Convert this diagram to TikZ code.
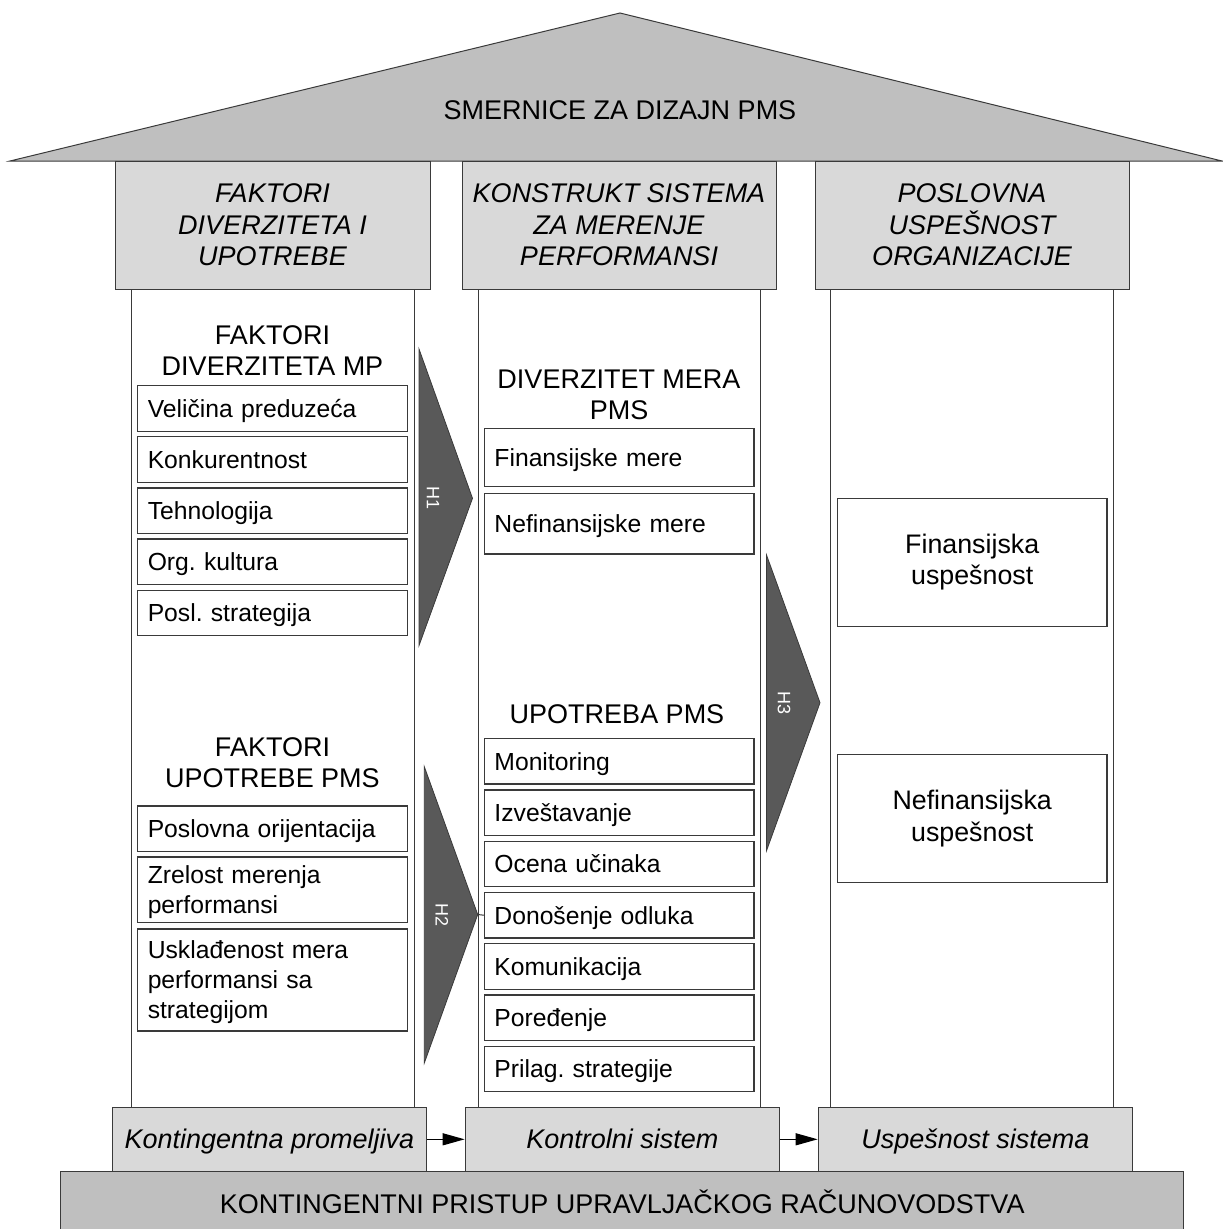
\documentclass[tikz,border=0pt]{standalone}
\usepackage{fontspec}
\setmainfont{Liberation Sans}
\usetikzlibrary{arrows.meta}
\definecolor{roofgray}{HTML}{BFBFBF}
\definecolor{boxgray}{HTML}{D9D9D9}
\definecolor{chevgray}{HTML}{595959}
\definecolor{edgegray}{HTML}{3A3A3A}
\newcommand\itmtop{\rule{0pt}{23.7pt}}
\newcommand\itmbot{\rule[-6pt]{0pt}{6pt}}
\tikzset{
  roofshape/.style={fill=roofgray, draw=edgegray, line width=1pt},
  hdr/.style={fill=boxgray, draw=edgegray, line width=1pt, align=center, inner sep=0pt,
    minimum height=128pt, font=\fontsize{27}{31.5}\selectfont\itshape},
  pillar/.style={draw=edgegray, line width=1pt, fill=white, inner sep=0pt,
    minimum width=282.5pt, minimum height=818pt},
  item/.style={draw=edgegray, line width=1.2pt, fill=white, text width=249.5pt,
    inner xsep=10pt, inner ysep=0pt, align=left, minimum height=45.4pt,
    font=\fontsize{24.7}{30}\selectfont,
    execute at begin node=\itmtop, execute at end node=\itmbot},
  ptitle/.style={align=center, inner sep=0pt, font=\fontsize{27}{31}\selectfont},
  resbox/.style={draw=edgegray, line width=1.2pt, fill=white, minimum width=269.7pt,
    minimum height=128pt, align=center, inner sep=0pt, font=\fontsize{26.8}{31.5}\selectfont},
  chev/.style={fill=chevgray, draw=edgegray, line width=0.8pt},
  hlab/.style={text=white, rotate=-90, inner sep=0pt, font=\fontsize{18}{18}\selectfont},
  basebox/.style={fill=boxgray, draw=edgegray, line width=1pt, minimum width=314.5pt,
    minimum height=64pt, inner sep=0pt, text height=19.3pt, text depth=0pt,
    font=\fontsize{27}{27}\selectfont\itshape},
  found/.style={fill=roofgray, draw=edgegray, line width=1pt, minimum width=1123.5pt,
    minimum height=61pt, inner sep=0pt, font=\fontsize{27}{27}\selectfont},
  flow/.style={-{Triangle[length=22pt,width=12pt]}, line width=1.2pt, draw=black},
  tick/.style={draw=edgegray, line width=1pt}
}
\begin{document}
\frenchspacing
\begin{tikzpicture}[x=1pt,y=-1pt]
\useasboundingbox (0,0) rectangle (1223,1229);

% roof
\filldraw[roofshape] (10,161) -- (620,13) -- (1222,161) -- cycle;
\node[font=\fontsize{27}{27}\selectfont] (rooftxt) at (620,110) {SMERNICE ZA DIZAJN PMS};

% pillars
\node[pillar] (p1) at (272.75,698) {};
\node[pillar] (p2) at (619.25,698) {};
\node[pillar] (p3) at (972,698) {};

% header boxes
\node[hdr, minimum width=315pt] (h1) at (272.5,225) {FAKTORI\\DIVERZITETA I\\UPOTREBE};
\node[hdr, minimum width=314pt] (h2) at (619,225) {KONSTRUKT SISTEMA\\ZA MERENJE\\PERFORMANSI};
\node[hdr, minimum width=314pt] (h3) at (972,225) {POSLOVNA\\USPEŠNOST\\ORGANIZACIJE};

% pillar 1 : upper group
\node[ptitle] (t1) at (272.5,351) {FAKTORI\\DIVERZITETA MP};
\node[item] (a1) at (272.5,408.4) {Veličina preduzeća};
\node[item] (a2) at (272.5,459.5) {Konkurentnost};
\node[item] (a3) at (272.5,510.6) {Tehnologija};
\node[item] (a4) at (272.5,561.7) {Org. kultura};
\node[item] (a5) at (272.5,613) {Posl. strategija};

% pillar 1 : lower group
\node[ptitle] (t2) at (272.5,763) {FAKTORI\\UPOTREBE PMS};
\node[item] (b1) at (272.5,828.7) {Poslovna orijentacija};
\node[item, minimum height=65.7pt] (b2) at (272.5,889.9) {Zrelost merenja\\performansi};
\node[item, minimum height=102pt] (b3) at (272.5,980) {Usklađenost mera\\performansi sa\\strategijom};

% pillar 2 : upper group
\node[ptitle] (t3) at (619,395.3) {DIVERZITET MERA\\PMS};
\node[item, minimum height=57.6pt] (c1) at (619.2,457.5) {Finansijske mere};
\node[item, minimum height=60.3pt] (c2) at (619.2,523.9) {Nefinansijske mere};

% pillar 2 : lower group
\node[ptitle] (t4) at (617,714.5) {UPOTREBA PMS};
\node[item] (d1) at (619.2,761.3) {Monitoring};
\node[item] (d2) at (619.2,812.6) {Izveštavanje};
\node[item] (d3) at (619.2,863.9) {Ocena učinaka};
\node[item] (d4) at (619.2,915.2) {Donošenje odluka};
\node[item] (d5) at (619.2,966.4) {Komunikacija};
\node[item] (d6) at (619.2,1017.6) {Poređenje};
\node[item] (d7) at (619.2,1068.8) {Prilag. strategije};

% pillar 3
\node[resbox] (r1) at (972.2,562.2) {Finansijska\\uspešnost};
\node[resbox] (r2) at (972.2,818.7) {Nefinansijska\\uspešnost};

% chevrons
\filldraw[chev] (419,349) -- (472.5,498.3) -- (419,645.5) -- cycle;
\node[hlab] (hy1) at (433,498.3) {H1};
\filldraw[chev] (424.3,766.7) -- (477.7,914.5) coordinate (h2tip) -- (424.3,1063) -- cycle;
\node[hlab] (hy2) at (442,914.5) {H2};
\draw[tick] (h2tip) -- (d4.west);
\filldraw[chev] (766.5,555) -- (820,702.7) -- (766.5,850.7) -- cycle;
\node[hlab] (hy3) at (784,702.7) {H3};

% base row
\node[basebox] (k1) at (269.4,1139.3) {Kontingentna promeljiva};
\node[basebox] (k2) at (622.4,1139.3) {Kontrolni sistem};
\node[basebox] (k3) at (975.4,1139.3) {Uspešnost sistema};
\draw[flow] (k1.east) -- (k2.west);
\draw[flow] (k2.east) -- (k3.west);

% foundation
\node[found] (base) at (622.2,1201.8) {KONTINGENTNI PRISTUP UPRAVLJAČKOG RAČUNOVODSTVA};
\end{tikzpicture}
\end{document}
